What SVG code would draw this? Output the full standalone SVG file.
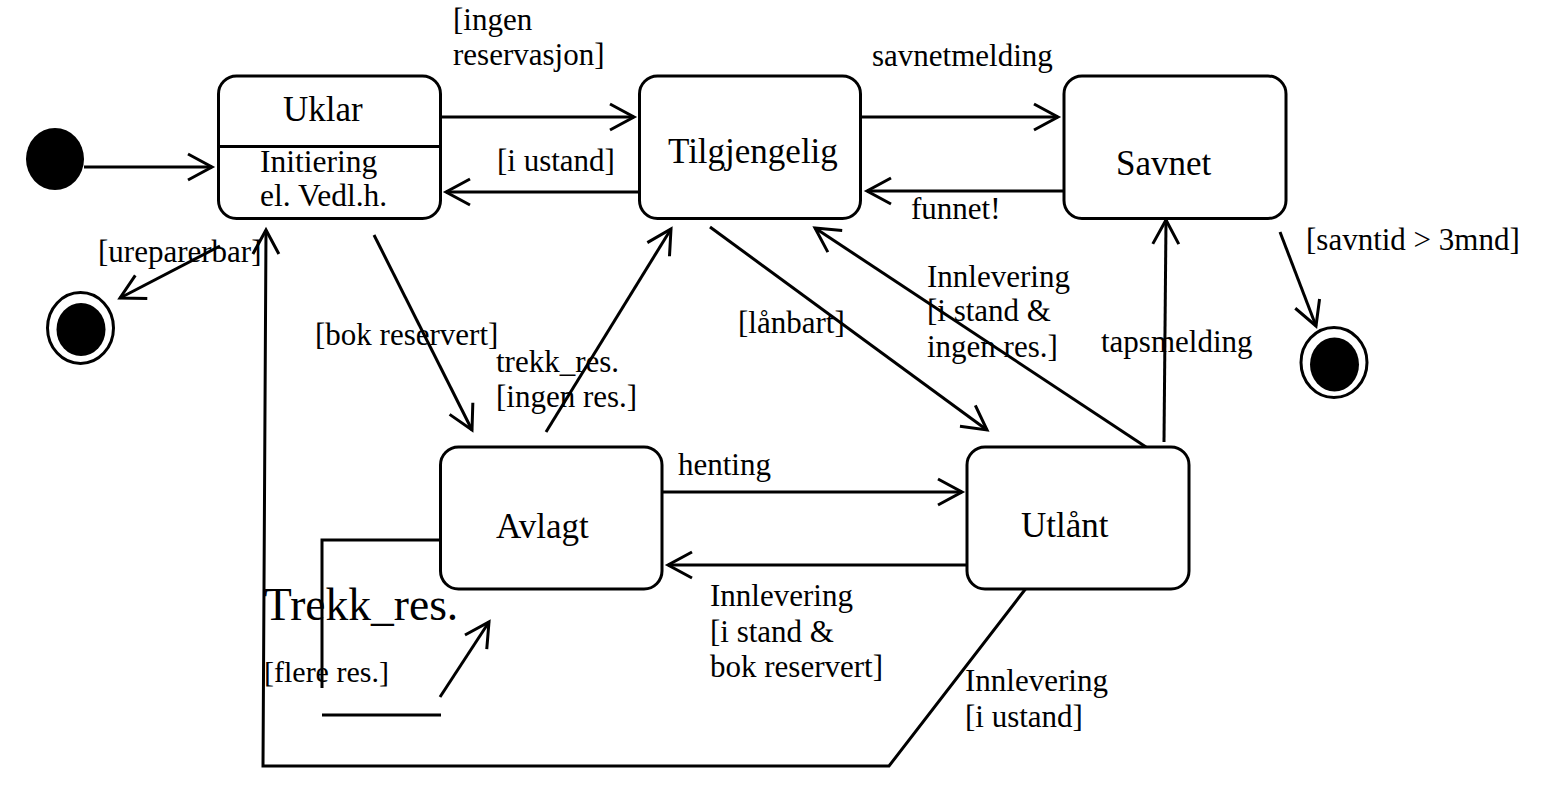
<svg xmlns="http://www.w3.org/2000/svg" width="1543" height="792" viewBox="0 0 1543 792">
<style>
.box{fill:#fff;stroke:#000;stroke-width:3}
.ln{fill:none;stroke:#000;stroke-width:3;stroke-linecap:butt}
.arr{marker-end:url(#a)}
.t{font-family:"Liberation Serif","Times New Roman",serif;fill:#000}
.n{font-size:35px}
.l{font-size:31px}
</style>
<defs>
<marker id="a" markerUnits="userSpaceOnUse" markerWidth="30" markerHeight="30" refX="0" refY="0" orient="auto" overflow="visible">
<path d="M-24,-13 L0,0 L-24,13" fill="none" stroke="#000" stroke-width="3"/>
</marker>
</defs>
<rect width="1543" height="792" fill="#fff"/>

<g id="connectors">
<line class="ln arr" x1="84" y1="167" x2="212" y2="167"/>
<line class="ln arr" x1="441" y1="117" x2="634" y2="117"/>
<line class="ln arr" x1="639" y1="192" x2="446" y2="192"/>
<line class="ln arr" x1="861" y1="117" x2="1058" y2="117"/>
<line class="ln arr" x1="1064" y1="191" x2="867" y2="191"/>
<line class="ln arr" x1="220" y1="246" x2="120" y2="298"/>
<line class="ln arr" x1="374" y1="235" x2="472" y2="430"/>
<line class="ln arr" x1="546" y1="432" x2="671" y2="229"/>
<line class="ln arr" x1="710" y1="227" x2="987" y2="430"/>
<line class="ln arr" x1="1146" y1="447" x2="815" y2="228"/>
<line class="ln arr" x1="1164" y1="442" x2="1166" y2="220"/>
<line class="ln arr" x1="1280" y1="232" x2="1316" y2="326"/>
<line class="ln arr" x1="662" y1="492" x2="962" y2="492"/>
<line class="ln arr" x1="967" y1="565" x2="668" y2="565"/>
<polyline class="ln arr" points="1027,587 889,766 263,766 266,230"/>
<polyline class="ln" points="440,540 322,540 322,688"/>
<line class="ln" x1="322" y1="715" x2="441" y2="715"/>
<line class="ln arr" x1="440" y1="697" x2="489" y2="622"/>
</g>

<g id="initial"><ellipse cx="55" cy="159" rx="29" ry="31" fill="#000"/></g>
<g id="final1">
<ellipse cx="80.5" cy="328" rx="33" ry="35.5" fill="#fff" stroke="#000" stroke-width="3"/>
<ellipse cx="81" cy="329.5" rx="24.5" ry="26.5" fill="#000"/>
</g>
<g id="final2">
<ellipse cx="1334" cy="362.5" rx="33" ry="35" fill="#fff" stroke="#000" stroke-width="3"/>
<ellipse cx="1334.5" cy="364.5" rx="24.5" ry="27" fill="#000"/>
</g>

<g id="uklar">
<rect class="box" x="218.5" y="76" width="222" height="142.5" rx="18"/>
<line class="ln" x1="218.5" y1="146.5" x2="440.5" y2="146.5"/>
<text class="t n" x="283" y="121">Uklar</text>
<text class="t" x="260" y="172" font-size="31.5">Initiering</text>
<text class="t" x="260" y="206" font-size="31.5">el. Vedl.h.</text>
</g>
<g id="tilgjengelig">
<rect class="box" x="639.5" y="76" width="221" height="142.5" rx="18"/>
<text class="t n" x="668" y="163" font-size="37">Tilgjengelig</text>
</g>
<g id="savnet">
<rect class="box" x="1064" y="76" width="222" height="142.5" rx="18"/>
<text class="t n" x="1116" y="175">Savnet</text>
</g>
<g id="avlagt">
<rect class="box" x="440.5" y="447" width="221.5" height="142" rx="18"/>
<text class="t n" x="496" y="538">Avlagt</text>
</g>
<g id="utlaant">
<rect class="box" x="967" y="447" width="222" height="142" rx="18"/>
<text class="t n" x="1021" y="537">Utlånt</text>
</g>

<g id="labels">
<text class="t l" x="453" y="30">[ingen</text>
<text class="t l" x="453" y="65">reservasjon]</text>
<text class="t l" x="872" y="66">savnetmelding</text>
<text class="t l" x="497" y="171">[i ustand]</text>
<text class="t l" x="911" y="219">funnet!</text>
<text class="t l" x="1306" y="250">[savntid &gt; 3mnd]</text>
<text class="t l" x="98" y="262">[ureparerbar]</text>
<text class="t l" x="315" y="345">[bok reservert]</text>
<text class="t l" x="496" y="372">trekk_res.</text>
<text class="t l" x="496" y="407">[ingen res.]</text>
<text class="t l" x="738" y="333">[lånbart]</text>
<text class="t l" x="927" y="287">Innlevering</text>
<text class="t l" x="927" y="321">[i stand &amp;</text>
<text class="t l" x="927" y="357">ingen res.]</text>
<text class="t l" x="1101" y="352">tapsmelding</text>
<text class="t l" x="678" y="475">henting</text>
<text class="t l" x="710" y="606">Innlevering</text>
<text class="t l" x="710" y="642">[i stand &amp;</text>
<text class="t l" x="710" y="677">bok reservert]</text>
<text class="t l" x="965" y="691">Innlevering</text>
<text class="t l" x="965" y="727">[i ustand]</text>
<text class="t" x="264" y="620" font-size="45.5">Trekk_res.</text>
<text class="t" x="264" y="682" font-size="30">[flere res.]</text>
</g>
</svg>
